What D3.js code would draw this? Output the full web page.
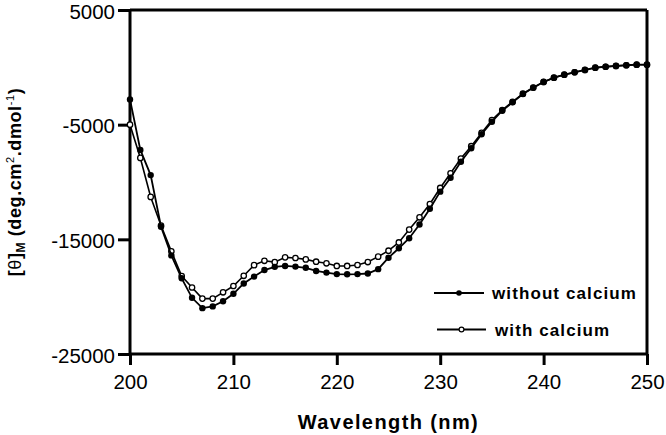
<!DOCTYPE html>
<html>
<head>
<meta charset="utf-8">
<script src="https://cdn.jsdelivr.net/npm/d3@7"></script>
<style>
  html, body { margin: 0; padding: 0; background: #fff; }
  svg { display: block; }
  text { font-family: "Liberation Sans", Arial, Helvetica, sans-serif; fill: #000; }
</style>
</head>
<body>
<svg id="chart" width="666" height="435"></svg>
<script>
// ---- data ----
const wavelengths = d3.range(200, 251); // 200..250 nm
const withoutCalcium = [
  -2800, -7200, -9400, -13900, -16400, -18400, -20100, -21000, -20850, -20400,
  -19750, -18850, -18250, -17680, -17400, -17320, -17380, -17480, -17760, -17900,
  -18030, -18050, -18030, -17980, -17600, -16600, -15780, -14900, -13700, -12330,
  -10840, -9630, -8230, -7060, -5840, -4740, -3780, -3050, -2330, -1780,
  -1280, -900, -640, -430, -230, -30, 50, 120, 180, 230,
  230
];
const withCalcium = [
  -5000, -7900, -11300, -13800, -16050, -18200, -19200, -20170, -20170, -19620,
  -19070, -18180, -17250, -16870, -16990, -16570, -16630, -16750, -16950, -17090,
  -17320, -17320, -17240, -16980, -16510, -15990, -15270, -14150, -13080, -11920,
  -10520, -9240, -7950, -6880, -5720, -4600, -3720, -3010, -2300, -1760,
  -1270, -900, -640, -430, -230, -30, 50, 120, 180, 230,
  230
];
const xTicks = [200, 210, 220, 230, 240, 250];
const yTicks = [5000, -5000, -15000, -25000];
const seriesNames = ["without calcium", "with calcium"];

// ---- layout ----
const svg = d3.select("#chart");
const mLeft = 130, mRight = 647, mTop = 10, mBottom = 354;
const x = d3.scaleLinear().domain([200, 250]).range([mLeft, mRight]);
const y = d3.scaleLinear().domain([-25000, 5000]).range([mBottom, mTop]);

// frame (top and right lines)
svg.append("line").attr("x1", mLeft).attr("x2", mRight).attr("y1", mTop).attr("y2", mTop)
  .attr("stroke", "#000").attr("stroke-width", 3);
svg.append("line").attr("x1", mRight).attr("x2", mRight).attr("y1", mTop).attr("y2", mBottom)
  .attr("stroke", "#000").attr("stroke-width", 3);

// axes
const xAxis = d3.axisBottom(x).tickValues(xTicks).tickSize(11).tickPadding(9).tickFormat(d3.format("d"));
const yAxis = d3.axisLeft(y).tickValues(yTicks).tickSize(12).tickPadding(3).tickFormat(d => String(d));

const gx = svg.append("g").attr("transform", `translate(0,${mBottom})`).call(xAxis);
const gy = svg.append("g").attr("transform", `translate(${mLeft},0)`).call(yAxis);

[gx, gy].forEach(g => {
  g.select(".domain").attr("stroke", "#000").attr("stroke-width", 3);
  g.selectAll(".tick line").attr("stroke", "#000").attr("stroke-width", 3);
  g.selectAll(".tick text").attr("font-size", 20.5)
    .attr("font-family", '"Liberation Sans", Arial, sans-serif').attr("fill", "#000");
});
gy.selectAll(".tick text").attr("dy", "0.4em");
gx.select(".domain").attr("d", `M${mLeft},0H${mRight}`);
gy.select(".domain").attr("d", `M0,${mBottom}V${mTop}`);

// ---- series ----
const rows = wavelengths.map((w, i) => ({ w, a: withoutCalcium[i], b: withCalcium[i] }));
const lineA = d3.line().x(d => x(d.w)).y(d => y(d.a));
const lineB = d3.line().x(d => x(d.w)).y(d => y(d.b));

// with calcium (open) first
svg.append("path").datum(rows).attr("d", lineB)
  .attr("fill", "none").attr("stroke", "#000").attr("stroke-width", 1.6);
svg.append("g").selectAll("circle").data(rows).join("circle")
  .attr("cx", d => x(d.w)).attr("cy", d => y(d.b)).attr("r", 2.7)
  .attr("fill", "#fff").attr("stroke", "#000").attr("stroke-width", 1.3);

// without calcium (filled)
svg.append("path").datum(rows).attr("d", lineA)
  .attr("fill", "none").attr("stroke", "#000").attr("stroke-width", 1.8);
svg.append("g").selectAll("circle").data(rows).join("circle")
  .attr("cx", d => x(d.w)).attr("cy", d => y(d.a)).attr("r", 3.2)
  .attr("fill", "#000");

// ---- legend ----
const legend = svg.append("g");
const legendRows = [
  { name: seriesNames[0], y: 293, filled: true, x1: 434, x2: 484, tx: 492 },
  { name: seriesNames[1], y: 329.5, filled: false, x1: 437, x2: 486, tx: 495 }
];
legendRows.forEach(r => {
  legend.append("line").attr("x1", r.x1).attr("x2", r.x2).attr("y1", r.y).attr("y2", r.y)
    .attr("stroke", "#000").attr("stroke-width", 1.8);
  legend.append("circle").attr("cx", (r.x1 + r.x2) / 2).attr("cy", r.y).attr("r", r.filled ? 2.8 : 2.4)
    .attr("fill", r.filled ? "#000" : "#fff").attr("stroke", "#000").attr("stroke-width", r.filled ? 0 : 1.2);
  legend.append("text").attr("x", r.tx).attr("y", r.y + 6).attr("font-size", 17)
    .attr("font-weight", "bold").attr("letter-spacing", 1.1).text(r.name);
});

// ---- axis titles ----
svg.append("text").attr("x", (mLeft + mRight) / 2).attr("y", 429)
  .attr("text-anchor", "middle").attr("font-size", 20).attr("font-weight", "bold")
  .attr("letter-spacing", 1.4).text("Wavelength (nm)");

const yl = svg.append("text")
  .attr("transform", `translate(21,${(mTop + mBottom) / 2}) rotate(-90)`)
  .attr("text-anchor", "middle").attr("font-size", 18).attr("font-weight", "bold")
  .attr("letter-spacing", 0.6);
yl.append("tspan").text("[");
yl.append("tspan").attr("font-weight", "normal").text("θ");
yl.append("tspan").text("]");
yl.append("tspan").attr("font-size", 12).attr("dy", 4).text("M");
yl.append("tspan").attr("dy", -4).text(" (deg.cm");
yl.append("tspan").attr("font-size", 11).attr("font-weight", "normal").attr("dy", -7).text("2");
yl.append("tspan").attr("dy", 7).text(".dmol");
yl.append("tspan").attr("font-size", 11).attr("font-weight", "normal").attr("dy", -7).text("-1");
yl.append("tspan").attr("dy", 7).text(")");
</script>
</body>
</html>
